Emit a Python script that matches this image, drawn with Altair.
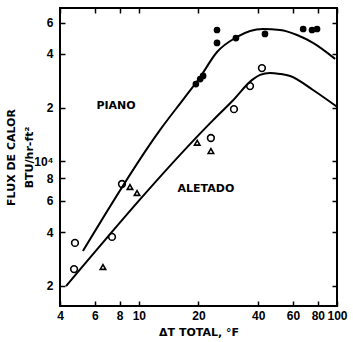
import altair as alt
import pandas as pd

# ---- data (log-log plot) ----
piano_x = [19.4, 20.4, 21.1, 24.8, 24.8, 30.9, 43.3, 67.5, 74.8, 79.3]
piano_y = [27100, 28900, 30100, 54500, 46100, 49100, 51800, 55200, 54500, 55200]

circ_x = [4.71, 4.76, 7.32, 8.22, 23.1, 30.2, 36.4, 41.8]
circ_y = [2480, 3480, 3760, 7450, 13500, 19600, 26400, 33300]

tri_x = [6.59, 9.02, 9.79, 19.7, 23.1]
tri_y = [2550, 7170, 6630, 12700, 11400]

piano_curve_x = [5.22, 12.8, 17.1, 20.4, 24.8, 31.3, 36.4, 42.3, 51.6, 62.9, 75.7, 97.8]
piano_curve_y = [3130, 15000, 22900, 29700, 41000, 49800, 53800, 55200, 54500, 51100, 46100, 37500]

aletado_curve_x = [4.29, 23.7, 29.9, 37.3, 40.9, 45.9, 51.6, 58.0, 75.7, 100]
aletado_curve_y = [1990, 17000, 22000, 28600, 30500, 31300, 30900, 30100, 25100, 20200]

label_text = ["PIANO", "ALETADO"]
label_x = [7.67, 21.8]
label_y = [20400, 6990]

x_ticks = [4, 6, 8, 10, 20, 40, 60, 80, 100]
y_ticks = [2000, 4000, 6000, 8000, 10000, 20000, 40000, 60000]
y_tick_labels = ["2", "4", "6", "8", "10\u2074", "2", "4", "6"]

# ---- tables ----
df_p = pd.DataFrame({"x": piano_x, "y": piano_y})
df_c = pd.DataFrame({"x": circ_x, "y": circ_y})
df_t = pd.DataFrame({"x": tri_x, "y": tri_y})
df_lines = pd.concat([
    pd.DataFrame({"x": piano_curve_x, "y": piano_curve_y, "curva": "PIANO"}),
    pd.DataFrame({"x": aletado_curve_x, "y": aletado_curve_y, "curva": "ALETADO"}),
])
df_lab = pd.DataFrame({"x": label_x, "y": label_y, "t": label_text})

y_expr = "''"
for v, l in zip(reversed(y_ticks), reversed(y_tick_labels)):
    y_expr = f"datum.value == {v} ? '{l}' : ({y_expr})"

FONT = "DejaVu Sans"
NUMFONT = "Liberation Sans"

xs = alt.Scale(type="log", domain=[4, 100], nice=False)
ys = alt.Scale(type="log", domain=[1540, 72400], nice=False)

x_main = alt.Axis(orient="bottom", values=x_ticks, offset=-5, tickSize=5, tickWidth=1.5,
                  tickColor="black", domain=False, grid=False, labelPadding=4,
                  labelFontSize=12, labelFontWeight="bold", labelFont=NUMFONT, labelColor="black",
                  labelFlush=False, labelOverlap=False,
                  title="\u0394T TOTAL, \u00b0F", titleFontSize=11, titleFontWeight="bold",
                  titleFont=FONT, titleColor="black", titlePadding=5)
y_main = alt.Axis(orient="left", values=y_ticks, offset=-5, tickSize=5, tickWidth=1.5,
                  tickColor="black", domain=False, grid=False, labelPadding=7,
                  labelExpr=y_expr, labelFontSize=12, labelFontWeight="bold", labelFont=NUMFONT,
                  labelColor="black", labelFlush=False, labelOverlap=False,
                  title=["FLUX DE CALOR", "BTU/hr-ft\u00b2"], titleFontSize=11,
                  titleFontWeight="bold", titleFont=FONT, titleColor="black",
                  titleLineHeight=18, titleX=-49, titleY=149)
x_top = alt.Axis(orient="top", values=x_ticks, offset=-5, tickSize=5, tickWidth=1.5,
                 tickColor="black", domain=False, grid=False, labels=False, title=None)
y_right = alt.Axis(orient="right", values=y_ticks, offset=-5, tickSize=5, tickWidth=1.5,
                   tickColor="black", domain=False, grid=False, labels=False, title=None)

filled = alt.Chart(df_p).mark_point(shape="circle", filled=True, color="black",
                                    size=45, opacity=1).encode(
    x=alt.X("x:Q", scale=xs, axis=x_main),
    y=alt.Y("y:Q", scale=ys, axis=y_main),
)

lines = alt.Chart(df_lines).mark_line(color="black", strokeWidth=2,
                                      interpolate="monotone").encode(
    x=alt.X("x:Q", scale=xs, axis=x_top),
    y=alt.Y("y:Q", scale=ys, axis=y_right),
    detail="curva:N",
)

circles = alt.Chart(df_c).mark_point(shape="circle", filled=False, color="black",
                                     strokeWidth=1.6, size=45, opacity=1).encode(
    x=alt.X("x:Q", scale=xs, axis=None),
    y=alt.Y("y:Q", scale=ys, axis=None),
)

tris = alt.Chart(df_t).mark_point(shape="triangle-up", filled=False, color="black",
                                  strokeWidth=1.6, size=30, opacity=1).encode(
    x=alt.X("x:Q", scale=xs, axis=None),
    y=alt.Y("y:Q", scale=ys, axis=None),
)

texts = alt.Chart(df_lab).mark_text(font=FONT, fontSize=11, fontWeight="bold",
                                    color="black").encode(
    x=alt.X("x:Q", scale=xs, axis=None),
    y=alt.Y("y:Q", scale=ys, axis=None),
    text="t:N",
)

chart = alt.layer(filled, lines, circles, tris, texts).resolve_axis(
    x="independent", y="independent"
).properties(
    width=277, height=298,
    autosize=alt.AutoSizeParams(type="none"),
    padding={"left": 60, "top": 8, "right": 16, "bottom": 36},
    background="white",
).configure_view(stroke="black", strokeWidth=2)

chart.save("out.html", embed_options={"renderer": "svg", "actions": False})
